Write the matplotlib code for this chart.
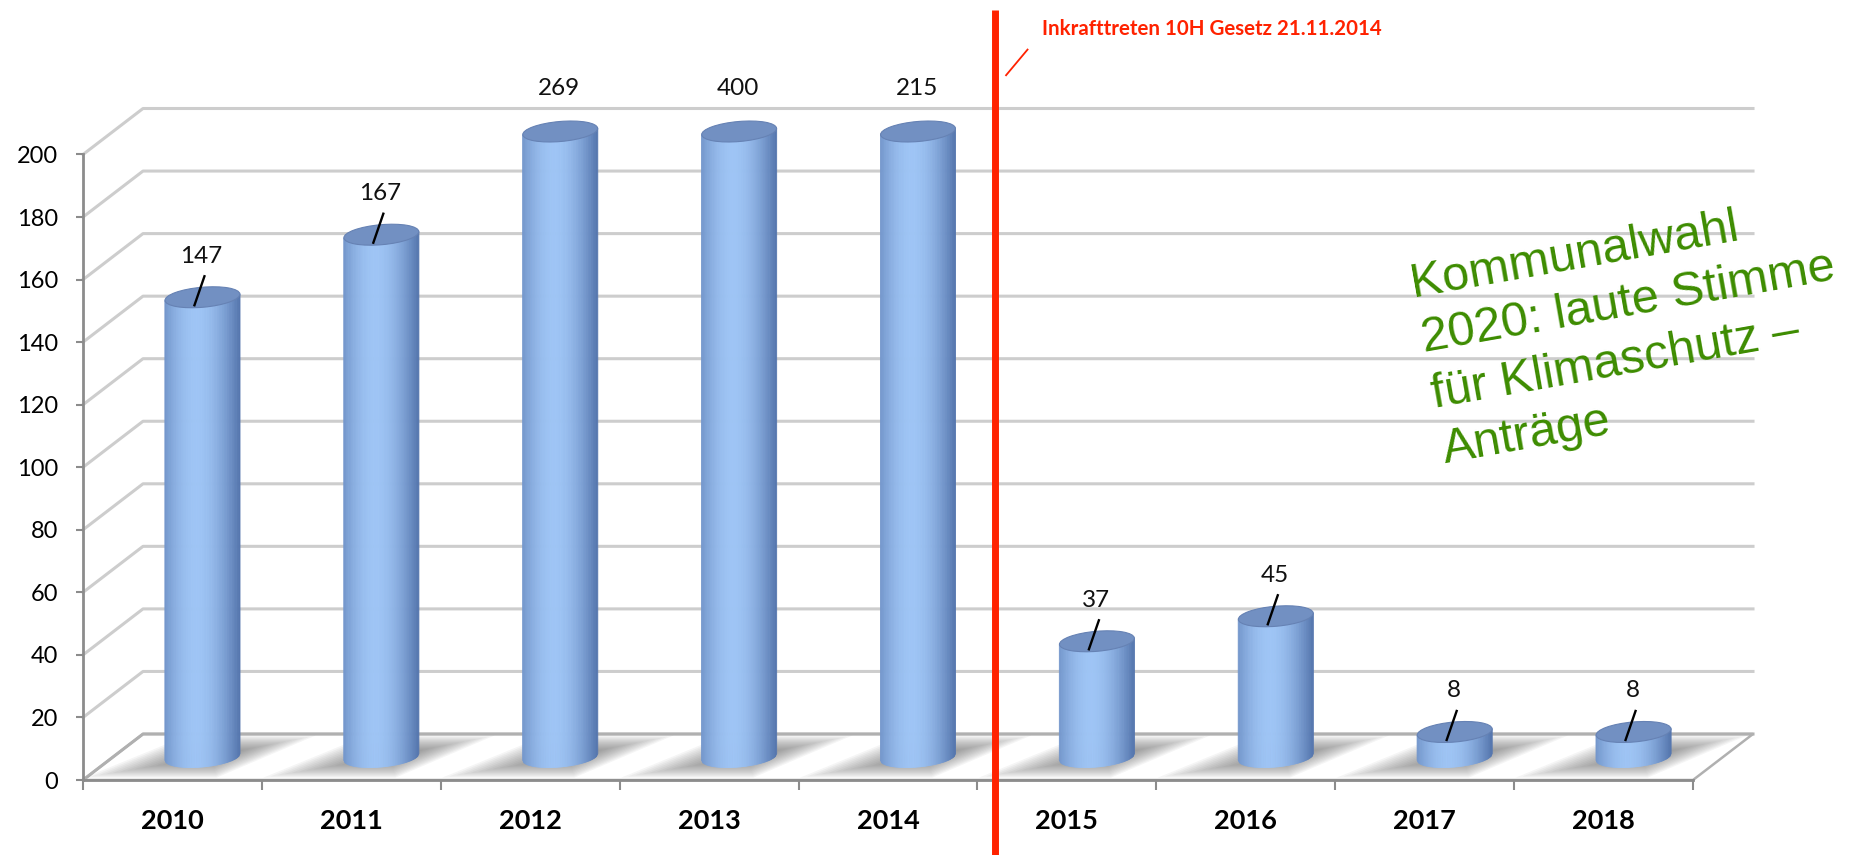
import matplotlib.pyplot as plt
import numpy as np
from matplotlib.patches import Polygon, Ellipse
from matplotlib.collections import PolyCollection
from matplotlib.transforms import IdentityTransform, blended_transform_factory

# data
years = ['2010', '2011', '2012', '2013', '2014', '2015', '2016', '2017', '2018']
values = [147, 167, 269, 400, 215, 37, 45, 8, 8]
y_ticks = [0, 20, 40, 60, 80, 100, 120, 140, 160, 180, 200]
y_max = 200
law_x = 4.6          # red marker between 2014 and 2015
law_text = 'Inkrafttreten 10H Gesetz 21.11.2014'
note_lines = ['Kommunalwahl', '2020: laute Stimme', 'für Klimaschutz –', 'Anträge']

W, H, DPI = 1863, 855, 100
DX, DY = 60, 46          # depth of the 3d box in pixels
half_w = 0.21            # cylinder radius in category units
ell_h = 10               # half height of cylinder ellipses (px)
tilt = np.deg2rad(5)

grid_col = '#cdcdcd'
axis_col = '#8c8c8c'
red = '#ff2200'
green = '#3d8c00'
num_font = ['Lato', 'DejaVu Sans']

fig = plt.figure(figsize=(W / DPI, H / DPI), dpi=DPI)
ax = fig.add_axes([83 / W, 75 / H, 1610 / W, 625.5 / H])
ax.set_xlim(-0.5, len(years) - 0.5)
ax.set_ylim(0, y_max)
ax.autoscale(False)
ident = IdentityTransform()


def px(x, y, d=0.0):
    X, Y = ax.transData.transform((x, y))
    return X + d * DX, Y + d * DY


x0, x1 = -0.5, len(years) - 0.5

# floor
floor = [px(x0, 0), px(x1, 0), px(x1, 0, 1), px(x0, 0, 1)]
ax.add_patch(Polygon(floor, closed=True, transform=ident, fc='white',
                     ec='#b0b0b0', lw=1.8, zorder=1, clip_on=False))

# back wall grid + side diagonals
for t in y_ticks:
    a, b, c = px(x0, t), px(x0, t, 1), px(x1, t, 1)
    ax.plot([a[0], b[0], c[0]], [a[1], b[1], c[1]], transform=ident,
            color=grid_col if t else '#b0b0b0', lw=2.2, zorder=1.2, clip_on=False)

# soft shadows on floor
for i, v in enumerate(values):
    quad = np.array([(i - half_w - 0.24, 0.1), (i + half_w + 0.0, 0.1),
                     (i + half_w + 0.22, 0.92), (i - half_w + 0.0, 0.92)])
    cen = quad.mean(axis=0) + np.array([0.05, 0.0])
    for s in np.linspace(1.12, 0.3, 14):
        q = cen + (quad - cen) * s
        pts = [px(xx, 0, dd) for xx, dd in q]
        ax.add_patch(Polygon(pts, closed=True, transform=ident, fc='#5a5a5a',
                             ec='none', alpha=0.06, zorder=1.5, clip_on=False))

# cylinders
u = np.linspace(-1, 1, 61)
shade = np.cos((u + 0.15) * 1.25)
shade = (shade - shade.min()) / (shade.max() - shade.min())
dark = np.array([0.33, 0.46, 0.68])
light = np.array([0.62, 0.77, 0.96])

for i, v in enumerate(values):
    h = min(v, y_max)
    cx, yb = px(i, 0, 0.5)
    _, yt = px(i, h, 0.5)
    r = px(i + half_w, 0)[0] - px(i, 0)[0]
    polys, cols = [], []
    for j in range(len(u) - 1):
        ua, ub = u[j], u[j + 1]
        xa, xb = cx + ua * r, cx + ub * r
        ta = yt + np.tan(tilt) * ua * r
        tb = yt + np.tan(tilt) * ub * r
        ba = yb + np.tan(tilt) * ua * r - ell_h * np.sqrt(max(0, 1 - ua ** 2))
        bb = yb + np.tan(tilt) * ub * r - ell_h * np.sqrt(max(0, 1 - ub ** 2))
        polys.append([(xa, ba), (xb, bb), (xb, tb), (xa, ta)])
        s = 0.5 * (shade[j] + shade[j + 1])
        cols.append(dark + (light - dark) * s)
    pc = PolyCollection(polys, facecolors=cols, edgecolors=cols, linewidths=0.6,
                        transform=ident, zorder=3, clip_on=False)
    ax.add_collection(pc)
    ax.add_patch(Ellipse((cx, yt), 2 * r, 2 * ell_h, angle=np.rad2deg(tilt),
                         transform=ident, fc='#7290c2', ec='#6682b4', lw=0.8,
                         zorder=3.5, clip_on=False))

    # value label (leader line only for bars that are not cut off)
    if v <= y_max:
        lift = 41
        ax.plot([cx + 2, cx - 8], [yt + 21, yt - 8], transform=ident,
                color='black', lw=1.7, zorder=4, clip_on=False)
    else:
        lift = 43
    ax.text(cx - 1, yt + lift, str(v), transform=ident, ha='center', va='center',
            fontsize=17.5, family=num_font, color='#111111', zorder=4)

# axes styling
for side in ['top', 'right']:
    ax.spines[side].set_visible(False)
for side in ['left', 'bottom']:
    ax.spines[side].set_color(axis_col)
    ax.spines[side].set_linewidth(2)
    ax.spines[side].set_zorder(2)
ax.patch.set_visible(False)

ax.set_yticks(y_ticks)
ax.set_yticklabels([str(t) for t in y_ticks], family=num_font, fontsize=17)
ax.tick_params(axis='y', length=5, width=1.5, color=axis_col, pad=13)

ax.set_xticks(range(len(years)))
ax.set_xticklabels(years, family=num_font, fontsize=19.5, fontweight='bold')
ax.set_xticks(np.arange(-0.5, len(years)), minor=True)
ax.tick_params(axis='x', which='major', length=0, pad=21)
ax.tick_params(axis='x', which='minor', length=7, width=1.5, color=axis_col)

# law marker
bt = blended_transform_factory(ax.transData, fig.transFigure)
ax.plot([law_x, law_x], [0, 0.988], transform=bt, color=red, lw=5,
        zorder=10, clip_on=False, solid_capstyle='butt')
ax.plot([law_x + 0.06, law_x + 0.18], [0.912, 0.942], transform=bt, color=red,
        lw=1.3, zorder=10, clip_on=False)
ax.text(law_x + 0.26, 0.966, law_text, transform=bt, ha='left', va='center',
        fontsize=14.8, fontweight='bold', family=num_font, color=red, zorder=10)

# rotated note
for k, line in enumerate(note_lines):
    xs = 1413 + k * 10.7
    ys = 297 + k * 55.3
    fig.text(xs / W, 1 - ys / H, line, ha='left', va='baseline', rotation=10,
             rotation_mode='anchor', fontsize=35, family=['Liberation Sans', 'DejaVu Sans'],
             color=green, zorder=20)

ax.set_xlim(x0, x1)
ax.set_ylim(0, y_max)
fig.savefig('out.png', dpi=DPI)
